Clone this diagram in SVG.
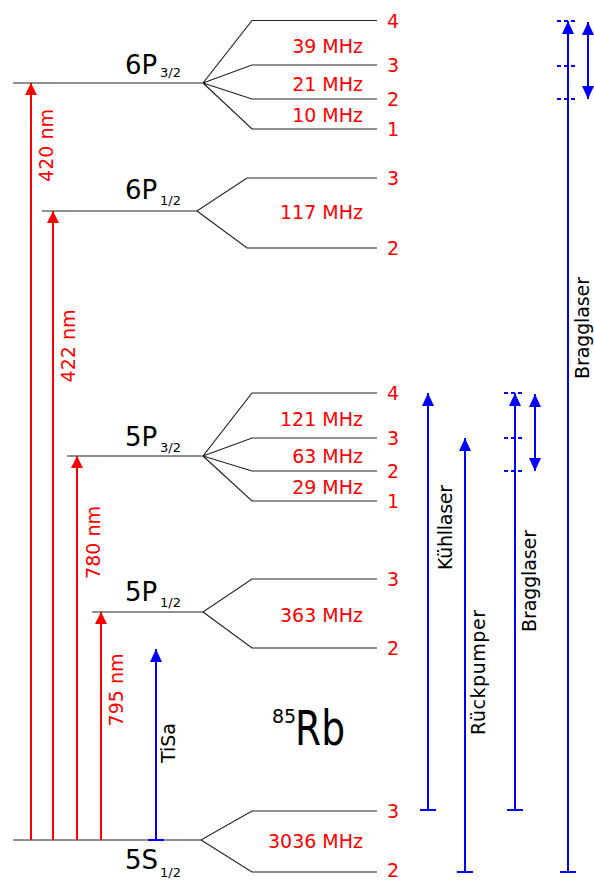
<svg xmlns="http://www.w3.org/2000/svg" width="594" height="881" viewBox="0 0 594 881">
<style>
.lv{stroke:#222;stroke-width:1.2;fill:none}
.red{stroke:#ff0000;stroke-width:2;fill:none}
.blue{stroke:#0000ff;stroke-width:2;fill:none}
.dash{stroke:#0000ff;stroke-width:2;stroke-dasharray:4,3;fill:none}
.t{font-family:"DejaVu Sans",sans-serif}
.lab{font-size:26px;fill:#000}
.sub{font-size:13px;fill:#000}
.mhz{font-size:19px;fill:#ff0000;text-anchor:end}
.num{font-size:19px;fill:#ff0000}
.rl{font-size:19px;fill:#ff0000;text-anchor:middle}
.bl{font-size:19px;fill:#000;text-anchor:middle}
</style>
<defs>
<marker id="ar" markerUnits="userSpaceOnUse" markerWidth="12" markerHeight="12" refX="12" refY="6" orient="auto"><path d="M0,0 L12,6 L0,12 z" fill="#ff0000"/></marker>
<marker id="ab" markerUnits="userSpaceOnUse" markerWidth="13" markerHeight="12" refX="13" refY="6" orient="auto"><path d="M0,0 L13,6 L0,12 z" fill="#0000ff"/></marker>
<marker id="abs" markerUnits="userSpaceOnUse" markerWidth="13" markerHeight="12" refX="13" refY="6" orient="auto-start-reverse"><path d="M0,0 L13,6 L0,12 z" fill="#0000ff"/></marker>
</defs>
<rect width="594" height="881" fill="#fff"/>

<g id="level-6P32">
<path class="lv" d="M13,83 H203 L252,20.5 H377 M203,83 L252,65 H377 M203,83 L252,99 H377 M203,83 L252,129 H377"/>
<text class="t lab" x="125" y="74">6P</text><text class="t sub" x="160" y="77">3/2</text>
<text class="t num" x="387" y="27.5">4</text>
<text class="t num" x="387" y="72">3</text>
<text class="t num" x="387" y="106">2</text>
<text class="t num" x="387" y="136">1</text>
<text class="t mhz" x="363" y="53">39 MHz</text>
<text class="t mhz" x="363" y="91">21 MHz</text>
<text class="t mhz" x="363" y="122">10 MHz</text>
</g>

<g id="level-6P12">
<path class="lv" d="M42,211 H197 L247,178 H377 M197,211 L247,248 H377"/>
<text class="t lab" x="125" y="199">6P</text><text class="t sub" x="160" y="205">1/2</text>
<text class="t num" x="387" y="185">3</text>
<text class="t num" x="387" y="255">2</text>
<text class="t mhz" x="363" y="219">117 MHz</text>
</g>

<g id="level-5P32">
<path class="lv" d="M67,456 H203 L252,393 H377 M203,456 L252,438 H377 M203,456 L252,471 H377 M203,456 L252,501 H377"/>
<text class="t lab" x="125" y="446">5P</text><text class="t sub" x="160" y="452">3/2</text>
<text class="t num" x="387" y="400">4</text>
<text class="t num" x="387" y="445">3</text>
<text class="t num" x="387" y="478">2</text>
<text class="t num" x="387" y="508">1</text>
<text class="t mhz" x="363" y="426">121 MHz</text>
<text class="t mhz" x="363" y="463">63 MHz</text>
<text class="t mhz" x="363" y="494">29 MHz</text>
</g>

<g id="level-5P12">
<path class="lv" d="M92,612 H203 L252,579 H377 M203,612 L252,648 H377"/>
<text class="t lab" x="125" y="601">5P</text><text class="t sub" x="160" y="607">1/2</text>
<text class="t num" x="387" y="586">3</text>
<text class="t num" x="387" y="655">2</text>
<text class="t mhz" x="363" y="622">363 MHz</text>
</g>

<g id="level-5S12">
<path class="lv" d="M13,840 H201 L252,811 H377 M201,840 L252,872 H377"/>
<text class="t lab" x="125" y="869">5S</text><text class="t sub" x="160" y="877">1/2</text>
<text class="t num" x="387" y="818">3</text>
<text class="t num" x="387" y="877" font-size="18">2</text>
<text class="t mhz" x="363" y="848">3036 MHz</text>
</g>

<g id="title">
<text class="t" x="272" y="723" font-size="19">85</text>
<text class="t" x="295" y="745" font-size="48" textLength="50" lengthAdjust="spacingAndGlyphs">Rb</text>
</g>

<g id="connectors">
<line class="red" x1="31" y1="840" x2="31" y2="83" marker-end="url(#ar)"/>
<line class="red" x1="53" y1="840" x2="53" y2="211" marker-end="url(#ar)"/>
<line class="red" x1="77" y1="840" x2="77" y2="456" marker-end="url(#ar)"/>
<line class="red" x1="101" y1="840" x2="101" y2="612" marker-end="url(#ar)"/>
<text class="t rl" transform="translate(53,145.5) rotate(-90)">420 nm</text>
<text class="t rl" transform="translate(75,346) rotate(-90)">422 nm</text>
<text class="t rl" transform="translate(100,542.5) rotate(-90)">780 nm</text>
<text class="t rl" transform="translate(123,690) rotate(-90)">795 nm</text>

<line class="blue" x1="156" y1="840" x2="156" y2="649" marker-end="url(#ab)"/>
<line class="blue" x1="148" y1="840" x2="164" y2="840"/>
<text class="t bl" font-size="18" transform="translate(175,743) rotate(-90)">TiSa</text>

<line class="blue" x1="428" y1="810" x2="428" y2="393" marker-end="url(#ab)"/>
<line class="blue" x1="420" y1="810" x2="436" y2="810"/>
<text class="t bl" transform="translate(452,527.5) rotate(-90)" textLength="85">Kühllaser</text>

<line class="blue" x1="465" y1="872" x2="465" y2="438" marker-end="url(#ab)"/>
<line class="blue" x1="457" y1="872" x2="473" y2="872"/>
<text class="t bl" transform="translate(485,672.5) rotate(-90)" textLength="125">Rückpumper</text>

<line class="blue" x1="515" y1="810" x2="515" y2="393" marker-end="url(#ab)"/>
<line class="blue" x1="507" y1="810" x2="523" y2="810"/>
<path class="dash" d="M504,393 H525 M504,438 H525 M504,471 H525"/>
<line class="blue" x1="535" y1="394" x2="535" y2="471" marker-start="url(#abs)" marker-end="url(#ab)"/>
<text class="t bl" transform="translate(536,581) rotate(-90)" textLength="102">Bragglaser</text>

<line class="blue" x1="568" y1="872" x2="568" y2="21" marker-end="url(#ab)"/>
<line class="blue" x1="560" y1="872" x2="576" y2="872"/>
<path class="dash" d="M557,21 H578 M557,66 H578 M557,99 H578"/>
<line class="blue" x1="588" y1="22" x2="588" y2="99" marker-start="url(#abs)" marker-end="url(#ab)"/>
<text class="t bl" transform="translate(589,328) rotate(-90)" textLength="102">Bragglaser</text>
</g>
</svg>
